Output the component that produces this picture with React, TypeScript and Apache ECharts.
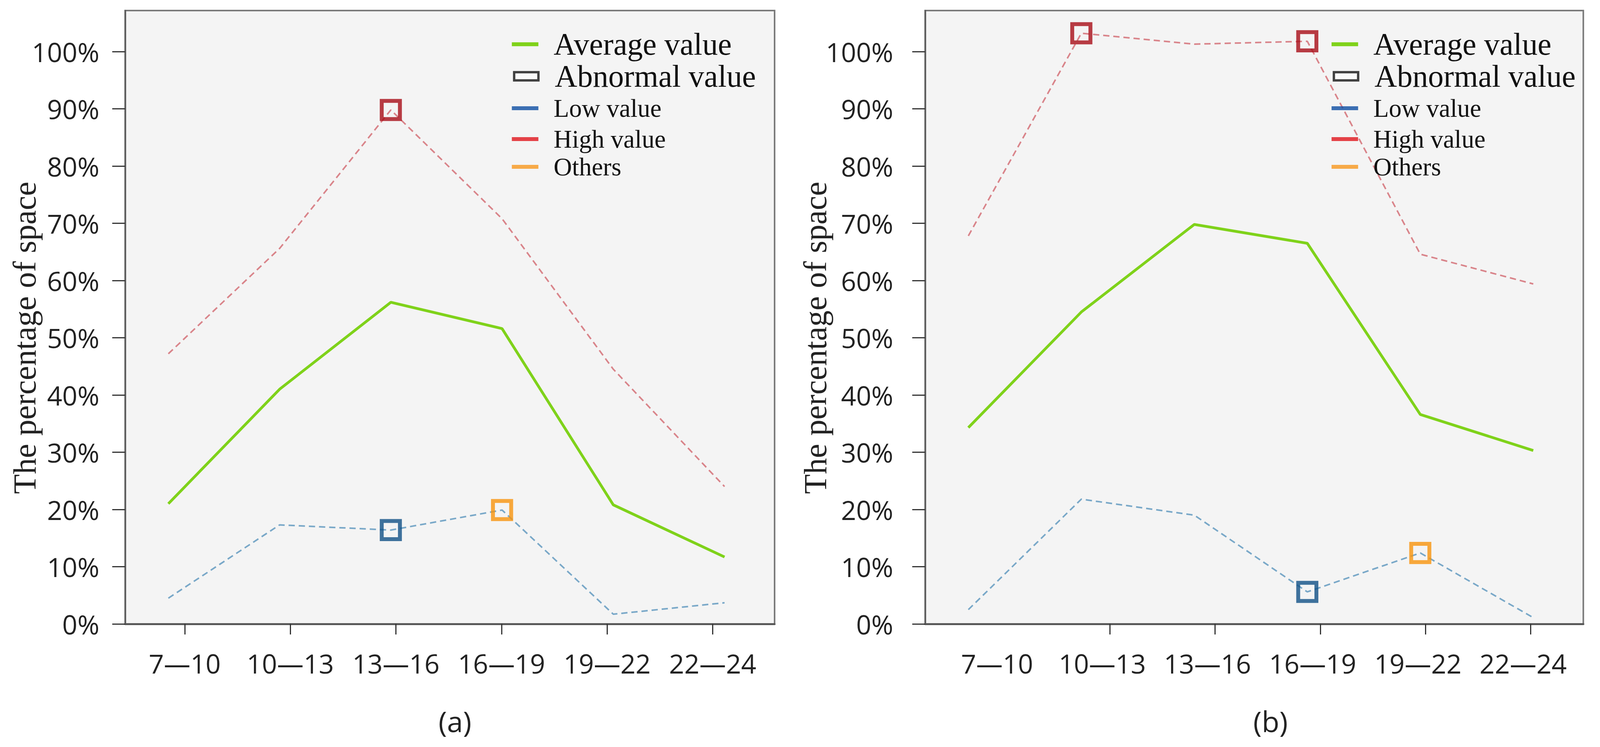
import React, { useEffect, useRef } from 'react';
import * as echarts from 'echarts';

// ---------------- data ----------------
const categories = ['7—10', '10—13', '13—16', '16—19', '19—22', '22—24'];
const yTickLabels = ['0%', '10%', '20%', '30%', '40%', '50%', '60%', '70%', '80%', '90%', '100%'];

// panel (a)
const avgA = [21.0, 41.0, 56.2, 51.6, 20.8, 11.7];
const highA = [47.2, 65.6, 89.8, 70.8, 44.5, 24.0];
const lowA = [4.5, 17.3, 16.4, 19.9, 1.7, 3.7];
const highMarksA = ['13—16'];
const lowMarksA = ['13—16'];
const otherMarksA = ['16—19'];

// panel (b)
const avgB = [34.3, 54.5, 69.8, 66.5, 36.6, 30.3];
const highB = [67.8, 103.2, 101.3, 101.8, 64.6, 59.4];
const lowB = [2.5, 21.8, 19.0, 5.6, 12.4, 1.1];
const highMarksB = ['10—13', '16—19'];
const lowMarksB = ['16—19'];
const otherMarksB = ['19—22'];

const legendNames = ['Average value', 'Abnormal value', 'Low value', 'High value', 'Others'];
const yAxisName = 'The percentage of space';
const captions = ['(a)', '(b)'];

// ---------------- styles ----------------
const GREEN = '#7fd21a';
const HIGH_LINE = '#d9848a';
const LOW_LINE = '#79a8c8';
const MARK_RED = '#a80c16';
const MARK_BLUE = '#105086';
const MARK_ORANGE = '#f7940c';
const LEG_BLUE = '#0c4da2';
const LEG_RED = '#e0141b';
const LEG_ORANGE = '#f7971d';
const SANS = '"Open Sans", "Noto Sans", sans-serif';
const SERIF = '"Liberation Serif", "DejaVu Serif", serif';
const TEXT = '#222';

// reference frame size
const REF_W = 4220;
const REF_H = 1912;

type Panel = {
  box: { left: number; width: number };
  ticks: { left: number; width: number };
  data: { left: number; width: number };
  yLabelMargin: number;
  nameGap: number;
  legendLeft: number;
  caption: { x: number; text: string };
  xLabelShift: number;
  avg: number[];
  high: number[];
  low: number[];
  highMarks: string[];
  lowMarks: string[];
  otherMarks: string[];
  hideFirstTick: boolean;
};

const panels: Panel[] = [
  {
    box: { left: 330, width: 1713 },
    ticks: { left: 348, width: 1671 },
    data: { left: 444, width: 1467 },
    yLabelMargin: 68,
    nameGap: 222,
    legendLeft: 1350,
    caption: { x: 1200, text: captions[0] },
    xLabelShift: 0,
    avg: avgA, high: highA, low: lowA,
    highMarks: highMarksA, lowMarks: lowMarksA, otherMarks: otherMarksA,
    hideFirstTick: false,
  },
  {
    box: { left: 2440, width: 1736 },
    ticks: { left: 2511, width: 1665 },
    data: { left: 2554, width: 1490 },
    yLabelMargin: 84,
    nameGap: 247,
    legendLeft: 3512,
    caption: { x: 3351, text: captions[1] },
    xLabelShift: 20,
    avg: avgB, high: highB, low: lowB,
    highMarks: highMarksB, lowMarks: lowMarksB, otherMarks: otherMarksB,
    hideFirstTick: true,
  },
];

const BOX_TOP = 27;
const BOX_H = 1570;
const DATA_TOP = 132;
const DATA_H = 1465;

function marks(cats: string[], values: number[]) {
  return cats.map((c) => {
    const i = categories.indexOf(c);
    return [i, values[i]];
  });
}

function buildOption(W: number, H: number) {
  const sx = W / REF_W;
  const sy = H / REF_H;
  const X = (v: number) => v * sx;
  const Y = (v: number) => v * sy;
  const F = (v: number) => v * Math.min(sx, sy);

  const grid: any[] = [];
  const xAxis: any[] = [];
  const yAxis: any[] = [];
  const series: any[] = [];
  const legend: any[] = [];
  const graphic: any[] = [];

  panels.forEach((p, pi) => {
    const g0 = pi * 3;
    grid.push({
      left: X(p.box.left), top: Y(BOX_TOP), width: X(p.box.width), height: Y(BOX_H),
      show: true, backgroundColor: '#f4f4f4', borderColor: '#7a7a7a', borderWidth: 4,
    });
    grid.push({ left: X(p.ticks.left), top: Y(BOX_TOP), width: X(p.ticks.width), height: Y(BOX_H) });
    grid.push({ left: X(p.data.left), top: Y(DATA_TOP), width: X(p.data.width), height: Y(DATA_H) });

    // box axes: only the darker left and bottom lines
    xAxis.push({
      gridIndex: g0, type: 'category', data: categories,
      axisLine: { show: true, lineStyle: { color: '#585858', width: 5 } },
      axisTick: { show: false }, axisLabel: { show: false }, splitLine: { show: false },
    });
    xAxis.push({
      gridIndex: g0 + 1,
      type: 'category',
      data: categories,
      boundaryGap: true,
      axisLine: { show: false },
      axisTick: {
        show: true,
        alignWithLabel: true,
        length: Y(27),
        interval: p.hideFirstTick ? (idx: number) => idx !== 0 : 0,
        lineStyle: { color: '#333', width: 3 },
      },
      axisLabel: {
        interval: 0,
        margin: Y(66),
        fontFamily: SANS,
        fontSize: F(70),
        color: TEXT,
        padding: [0, X(p.xLabelShift * 2), 0, 0],
      },
      splitLine: { show: false },
    });
    xAxis.push({ gridIndex: g0 + 2, type: 'category', data: categories, boundaryGap: false, show: false });

    yAxis.push({
      gridIndex: g0, type: 'value',
      axisLine: { show: true, lineStyle: { color: '#5e5e5e', width: 4 } },
      axisTick: { show: false }, axisLabel: { show: false }, splitLine: { show: false },
    });
    yAxis.push({ gridIndex: g0 + 1, type: 'value', show: false });
    yAxis.push({
      gridIndex: g0 + 2,
      type: 'value',
      min: 0,
      max: 100,
      interval: 10,
      offset: X(p.data.left - p.box.left),
      axisLine: { show: false },
      axisTick: { show: true, length: X(34), lineStyle: { color: '#333', width: 3 } },
      axisLabel: {
        margin: X(p.yLabelMargin),
        fontFamily: SANS,
        fontSize: F(70),
        color: TEXT,
        formatter: (v: number) => yTickLabels[Math.round(v / 10)] ?? '',
      },
      splitLine: { show: false },
      name: yAxisName,
      nameLocation: 'middle',
      nameGap: X(p.nameGap),
      nameMoveOverlap: false,
      nameTextStyle: { fontFamily: SERIF, fontSize: F(85), color: TEXT },
    });

    const ax = { xAxisIndex: g0 + 2, yAxisIndex: g0 + 2 };
    series.push({
      ...ax, type: 'line', name: 'high-line-' + pi, data: p.high, symbol: 'none', clip: false,
      lineStyle: { color: HIGH_LINE, width: 4, type: [16, 10] }, z: 2,
    });
    series.push({
      ...ax, type: 'line', name: 'low-line-' + pi, data: p.low, symbol: 'none', clip: false,
      lineStyle: { color: LOW_LINE, width: 4, type: [16, 10] }, z: 2,
    });
    series.push({
      ...ax, type: 'line', name: legendNames[0], data: p.avg, symbol: 'none', clip: false,
      itemStyle: { color: GREEN }, lineStyle: { color: GREEN, width: 7 }, z: 3,
    });
    series.push({ ...ax, type: 'scatter', name: legendNames[1], data: [] });
    const markStyle = (c: string) => ({
      symbol: 'rect', symbolSize: F(48), clip: false, z: 4,
      itemStyle: { color: 'rgba(0,0,0,0)', borderColor: c, borderWidth: 10 },
    });
    series.push({ ...ax, type: 'scatter', name: legendNames[2], data: marks(p.lowMarks, p.low), ...markStyle(MARK_BLUE) });
    series.push({ ...ax, type: 'scatter', name: legendNames[3], data: marks(p.highMarks, p.high), ...markStyle(MARK_RED) });
    series.push({ ...ax, type: 'scatter', name: legendNames[4], data: marks(p.otherMarks, p.low), ...markStyle(MARK_ORANGE) });

    const rows = [
      { name: legendNames[0], cy: 113, fs: 82, kind: 'line', color: GREEN },
      { name: legendNames[1], cy: 195, fs: 82, kind: 'box', color: '#111' },
      { name: legendNames[2], cy: 277, fs: 67, kind: 'line', color: LEG_BLUE },
      { name: legendNames[3], cy: 356, fs: 67, kind: 'line', color: LEG_RED },
      { name: legendNames[4], cy: 427, fs: 67, kind: 'line', color: LEG_ORANGE },
    ];
    rows.forEach((r) => {
      const isBox = r.kind === 'box';
      legend.push({
        left: X(isBox ? p.legendLeft + 3 : p.legendLeft),
        top: Y(r.cy) - F(r.fs) / 2,
        orient: 'horizontal',
        padding: 0,
        itemGap: 0,
        itemWidth: X(isBox ? 64 : 70),
        itemHeight: Y(isBox ? 21 : 10),
        selectedMode: false,
        data: [
          {
            name: r.name,
            icon: 'rect',
            itemStyle: isBox
              ? { color: '#fbfbfb', borderColor: r.color, borderWidth: 6 }
              : { color: r.color, borderWidth: 0 },
          },
        ],
        textStyle: {
          fontFamily: SERIF,
          fontSize: F(r.fs),
          color: '#111',
          padding: [0, 0, 0, X(isBox ? 38 : 35)],
        },
      });
    });

    graphic.push({
      type: 'text',
      x: X(p.caption.x),
      y: Y(1845),
      style: {
        text: p.caption.text,
        fontFamily: SANS,
        fontSize: F(76),
        fill: TEXT,
        align: 'center',
        verticalAlign: 'middle',
      },
    });
  });

  return {
    animation: false,
    backgroundColor: '#ffffff',
    grid,
    xAxis,
    yAxis,
    series,
    legend,
    graphic,
  };
}

export default function App() {
  const ref = useRef<HTMLDivElement>(null);
  useEffect(() => {
    const el = ref.current;
    if (!el) return;
    const W = el.clientWidth || REF_W;
    const H = el.clientHeight || REF_H;
    const chart = echarts.init(el, undefined, { renderer: 'svg', width: W, height: H });
    chart.setOption(buildOption(W, H) as any);
    return () => chart.dispose();
  }, []);
  return (
    <div
      ref={ref}
      style={{
        position: 'fixed',
        left: 0,
        top: 0,
        width: '100vw',
        height: '100vh',
        maxWidth: REF_W,
        maxHeight: REF_H,
        background: '#fff',
        overflow: 'hidden',
      }}
    />
  );
}
